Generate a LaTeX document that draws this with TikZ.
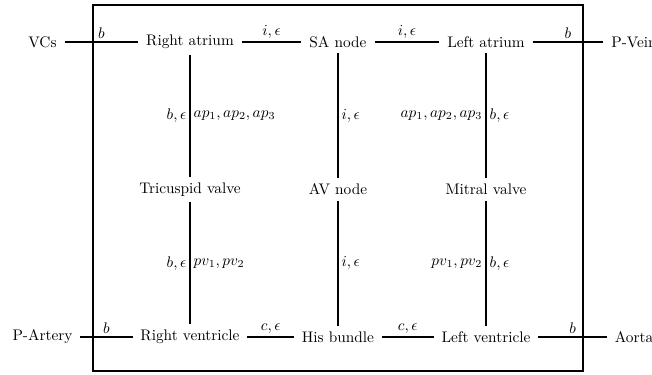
\documentclass[tikz,border=0pt]{standalone}
\begin{document}
\begin{tikzpicture}[x=0.6523pt,y=-0.6523pt,
  organ/.style={inner xsep=5pt,inner ysep=3.5pt},
  conn/.style={line width=0.8pt},
  lab/.style={inner sep=2pt}]
\useasboundingbox (0,0) rectangle (652,374);
\draw[conn] (93,5) rectangle (583,371);
% top row
\node[organ] (vcs) at (42.5,42) {VCs};
\node[organ] (ra)  at (190,42) {Right atrium};
\node[organ] (sa)  at (338,42) {SA node};
\node[organ] (la)  at (486,42) {Left atrium};
\node[organ] (pv)  at (634,42) {P-Vein};
% middle row
\node[organ] (tv)  at (190,189.5) {Tricuspid valve};
\node[organ] (av)  at (338,189.5) {AV node};
\node[organ] (mv)  at (486,189.5) {Mitral valve};
% bottom row
\node[organ] (pa)  at (42.5,337) {P-Artery};
\node[organ] (rv)  at (190,337) {Right ventricle};
\node[organ] (hb)  at (338,337) {His bundle};
\node[organ] (lv)  at (486,337) {Left ventricle};
\node[organ] (ao)  at (634,337) {Aorta};
% horizontal connectors
\draw[conn] (vcs) -- node[lab,above]{$b$} (ra);
\draw[conn] (ra) -- node[lab,above]{$i,\epsilon$} (sa);
\draw[conn] (sa) -- node[lab,above]{$i,\epsilon$} (la);
\draw[conn] (la) -- node[lab,above]{$b$} (pv);
\draw[conn] (pa) -- node[lab,above]{$b$} (rv);
\draw[conn] (rv) -- node[lab,above]{$c,\epsilon$} (hb);
\draw[conn] (hb) -- node[lab,above]{$c,\epsilon$} (lv);
\draw[conn] (lv) -- node[lab,above]{$b$} (ao);
% vertical connectors
\draw[conn] (ra) -- node[lab,left]{$b,\epsilon$} node[lab,right]{$ap_1,ap_2,ap_3$} (tv);
\draw[conn] (tv) -- node[lab,left]{$b,\epsilon$} node[lab,right]{$pv_1,pv_2$} (rv);
\draw[conn] (sa) -- node[lab,right]{$i,\epsilon$} (av);
\draw[conn] (av) -- node[lab,right]{$i,\epsilon$} (hb);
\draw[conn] (la) -- node[lab,left]{$ap_1,ap_2,ap_3$} node[lab,right]{$b,\epsilon$} (mv);
\draw[conn] (mv) -- node[lab,left]{$pv_1,pv_2$} node[lab,right]{$b,\epsilon$} (lv);
\end{tikzpicture}
\end{document}
